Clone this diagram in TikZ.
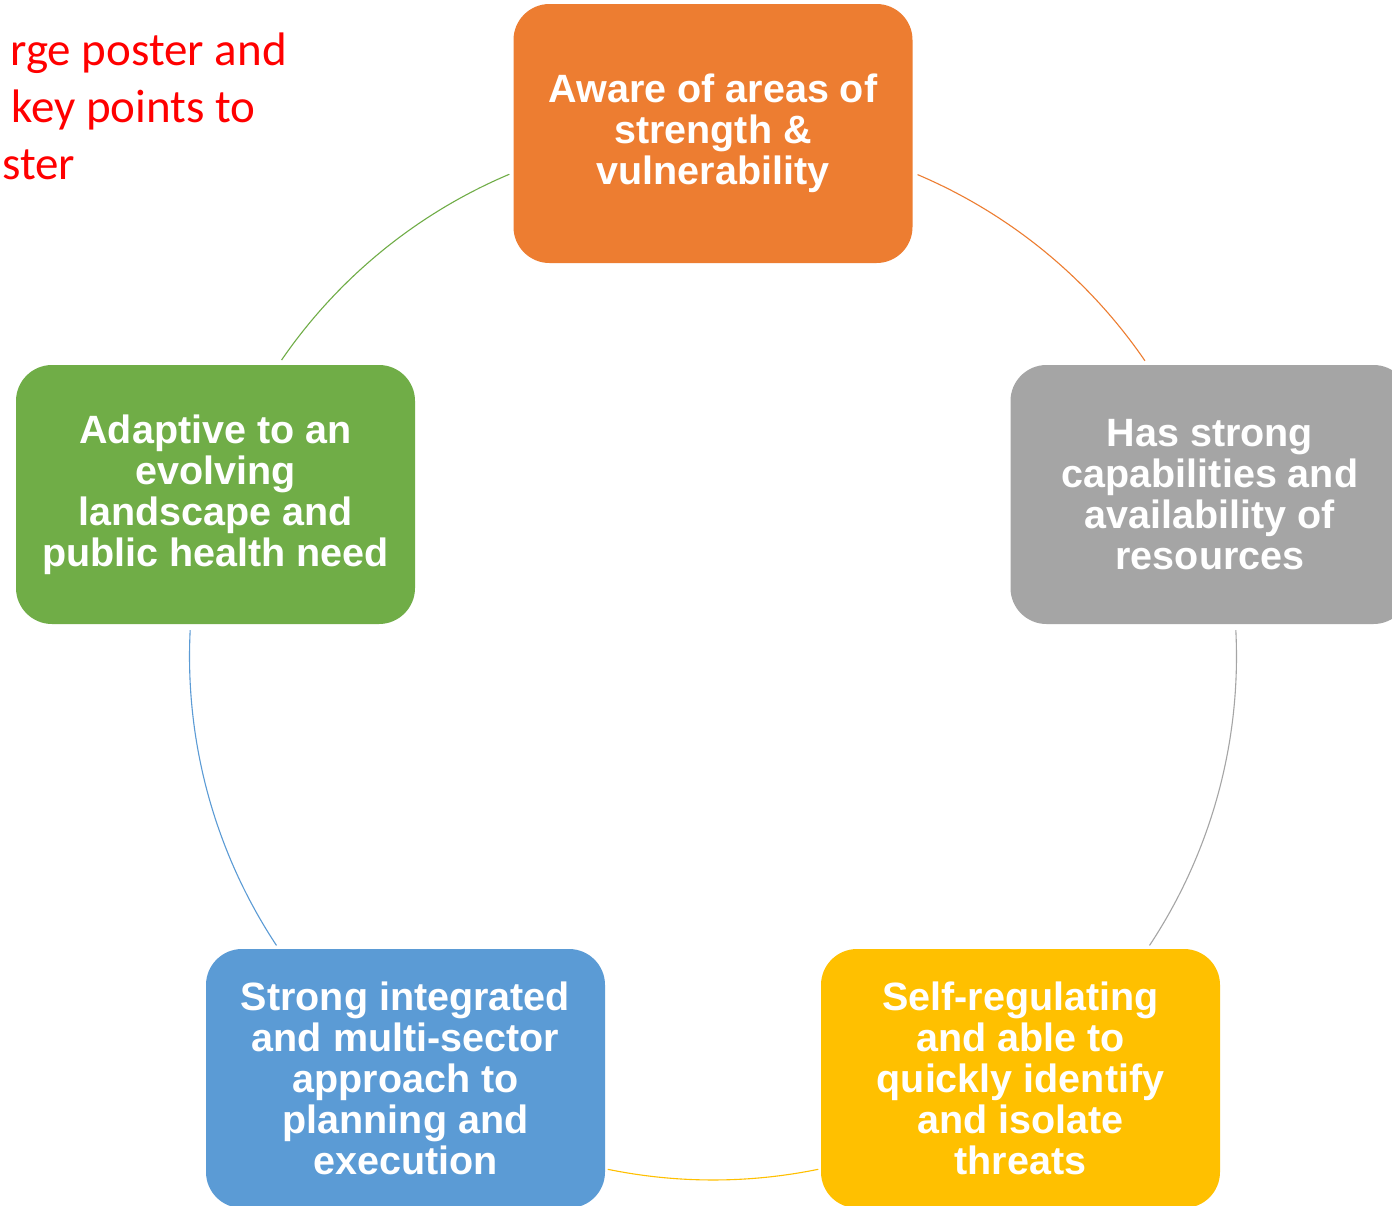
\documentclass[tikz,border=0pt]{standalone}
\usepackage{fontspec}
\setmainfont{Liberation Sans}
\newfontfamily\calibrifont{Carlito}
\definecolor{accOrange}{HTML}{ED7D31}
\definecolor{accGray}{HTML}{A5A5A5}
\definecolor{accYellow}{HTML}{FFC000}
\definecolor{accBlue}{HTML}{5B9BD5}
\definecolor{accGreen}{HTML}{70AD47}
\definecolor{noteRed}{HTML}{FF0000}
\begin{document}
\begin{tikzpicture}[x=1pt,y=1pt,
  cyclebox/.style={rounded corners=36pt, minimum width=399pt, minimum height=259pt,
    inner sep=0pt, text=white, align=center,
    font=\fontsize{39.5}{41}\selectfont\bfseries},
  link/.style={line width=1.1pt},
  note/.style={text=noteRed, inner sep=0pt, font=\calibrifont\fontsize{47}{57}\selectfont}]
\useasboundingbox (0,0) rectangle (1392,-1205);
\clip (0,0) rectangle (1392,-1205);
\fill[white] (0,0) rectangle (1392,-1205);
\coordinate (ctr) at (713,-656.5);

% boxes
\node[cyclebox, fill=accOrange] (aware) at (713,-133.5) {Aware of areas of\\strength \&\\vulnerability};
\node[cyclebox, fill=accGray] (capab) at (1210,-494.5) {Has strong\\capabilities and\\availability of\\resources};
\node[cyclebox, fill=accYellow] (selfreg) at (1020.5,-1078.5) {Self-regulating\\and able to\\quickly identify\\and isolate\\threats};
\node[cyclebox, fill=accBlue] (integr) at (405.5,-1078.5) {Strong integrated\\and multi-sector\\approach to\\planning and\\execution};
\node[cyclebox, fill=accGreen] (adapt) at (215.5,-494.5) {Adaptive to an\\evolving\\landscape and\\public health need};

% arc end points on the cycle circle
\coordinate (a1) at ([shift={(67.0:523.5)}]ctr);
\coordinate (g0) at ([shift={(2.9:523.5)}]ctr);
\coordinate (y0) at ([shift={(-78.4:523.5)}]ctr);
\coordinate (b0) at ([shift={(-146.5:523.5)}]ctr);
\coordinate (n0) at ([shift={(145.5:523.5)}]ctr);

% connectors (arcs)
\draw[link, accOrange] (a1) arc[start angle=67.0, end angle=34.4, radius=523.5];
\draw[link, accGray] (g0) arc[start angle=2.9, end angle=-33.5, radius=523.5];
\draw[link, accYellow] (y0) arc[start angle=-78.4, end angle=-101.6, radius=523.5];
\draw[link, accBlue] (b0) arc[start angle=-146.5, end angle=-182.9, radius=523.5];
\draw[link, accGreen] (n0) arc[start angle=145.5, end angle=112.9, radius=523.5];

% red note (clipped at the left edge)
\node[note, anchor=base east] (note1) at (287,-65) {rge poster and};
\node[note, anchor=base west] (note2) at (11,-122) {key points to};
\node[note, anchor=base west] (note3) at (2,-179) {ster};
\end{tikzpicture}
\end{document}
